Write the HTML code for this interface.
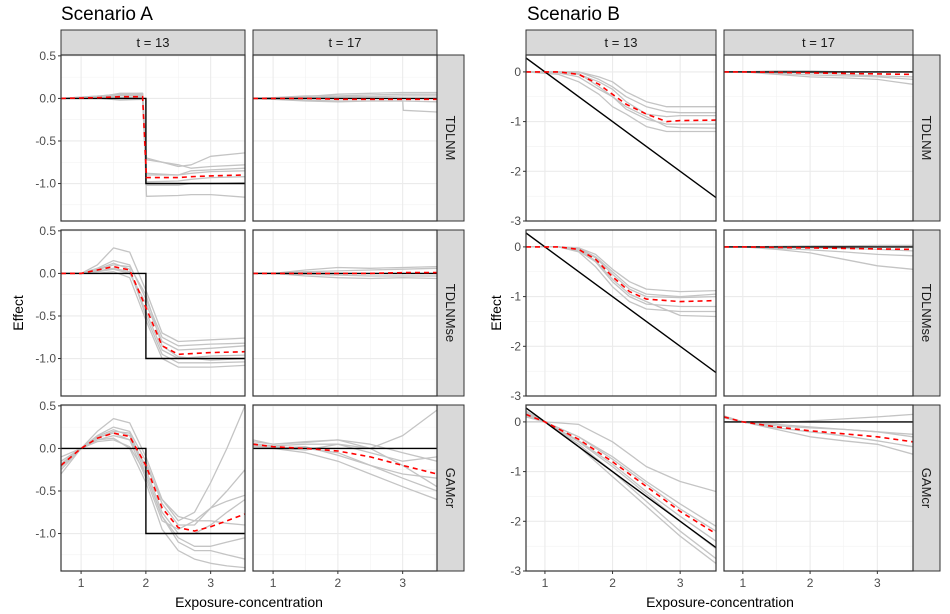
<!DOCTYPE html>
<html><head><meta charset="utf-8">
<style>
body{margin:0;background:#fff;width:950px;height:614px;overflow:hidden;font-family:"Liberation Sans",sans-serif}
svg{display:block}
</style></head>
<body>
<svg id="chart" width="950" height="614">
<text x="61" y="20" font-size="19" fill="#000">Scenario A</text>
<text x="527" y="20" font-size="19" fill="#000">Scenario B</text>
<text x="249" y="607" font-size="14" text-anchor="middle">Exposure-concentration</text>
<text x="720" y="607" font-size="14" text-anchor="middle">Exposure-concentration</text>
<text transform="translate(23,313) rotate(-90)" font-size="14" text-anchor="middle">Effect</text>
<text transform="translate(501,313) rotate(-90)" font-size="14" text-anchor="middle">Effect</text>
</svg>
<script>
// ---- data ----
const colLabels = ["t = 13", "t = 17"];
const rowLabels = ["TDLNM", "TDLNMse", "GAMcr"];
const xTicks = [1, 2, 3];
const yTicksA = [0.5, 0, -0.5, -1.0];
const yTickLabelsA = ["0.5", "0.0", "-0.5", "-1.0"];
const yTicksB = [0, -1, -2, -3];
const yTickLabelsB = ["0", "-1", "-2", "-3"];

// Scenario A truth
const truthStepX = [0.69, 2, 2, 3.53];
const truthStepY = [0, 0, -1, -1];
const truthFlatX = [0.69, 3.53];
const truthFlatY = [0, 0];
// Scenario B truth
const truthLinX = [0.72, 3.53];
const truthLinY = [0.28, -2.53];

// Scenario A panels
const a11X = [0.69, 1.3, 1.6, 1.95, 2.01, 2.5, 2.7, 3.0, 3.53];
const a11Mean = [0, 0.01, 0.02, 0.02, -0.93, -0.93, -0.92, -0.91, -0.9];
const a11Gray = [
 [0, 0.03, 0.05, 0.05, -0.7, -0.8, -0.78, -0.68, -0.64],
 [0, 0.02, 0.06, 0.06, -0.72, -0.78, -0.82, -0.8, -0.78],
 [0, 0.01, 0.03, 0.04, -1.15, -1.14, -1.13, -1.13, -1.16],
 [0, 0.0, -0.02, -0.01, -0.88, -0.9, -0.88, -0.86, -0.85],
 [0, 0.02, 0.04, 0.03, -0.98, -0.97, -0.95, -0.93, -0.92],
 [0, 0.0, 0.01, 0.02, -1.02, -1.02, -1.0, -1.0, -0.99],
 [0, 0.03, 0.05, 0.06, -0.9, -0.9, -0.85, -0.84, -0.82]
];
const a12X = [0.69, 1.0, 1.5, 2.0, 2.5, 3.0, 3.01, 3.53];
const a12Mean = [0, 0, 0, -0.01, -0.01, -0.01, -0.01, -0.01];
const a12Gray = [
 [0, 0, 0.02, 0.05, 0.06, 0.07, 0.07, 0.07],
 [0, 0, -0.02, -0.03, -0.03, -0.03, -0.14, -0.16],
 [0, 0.01, 0.03, 0.03, 0.04, 0.05, 0.05, 0.05],
 [0, -0.01, -0.03, -0.04, -0.03, -0.03, -0.03, -0.04],
 [0, 0, 0.01, 0.02, 0.02, 0.03, 0.03, 0.03]
];
const a21X = [0.69, 1.0, 1.25, 1.5, 1.75, 2.0, 2.25, 2.5, 3.0, 3.53];
const a21Mean = [0, 0, 0.04, 0.08, 0.04, -0.4, -0.85, -0.95, -0.93, -0.92];
const a21Gray = [
 [0, 0, 0.1, 0.3, 0.25, -0.2, -0.7, -0.8, -0.78, -0.76],
 [0, 0, 0.05, 0.12, 0.05, -0.5, -0.95, -1.05, -1.05, -1.04],
 [0, 0, 0.02, 0.05, 0.0, -0.35, -0.8, -0.9, -0.88, -0.85],
 [0, 0, 0.0, 0.02, -0.05, -0.55, -1.0, -1.1, -1.1, -1.08],
 [0, 0, 0.06, 0.15, 0.1, -0.3, -0.75, -0.85, -0.83, -0.82],
 [0, 0, 0.03, 0.06, 0.02, -0.45, -0.9, -1.0, -0.97, -0.96],
 [0, 0, 0.04, 0.1, 0.08, -0.25, -0.85, -0.98, -1.02, -1.0]
];
const a22X = [0.69, 1.0, 1.5, 2.0, 2.5, 3.0, 3.53];
const a22Mean = [0, 0, 0.0, 0.0, 0.0, 0.01, 0.01];
const a22Gray = [
 [0, 0, 0.04, 0.07, 0.06, 0.07, 0.08],
 [0, 0, -0.03, -0.05, -0.06, -0.05, -0.06],
 [0, 0, 0.02, 0.03, 0.04, 0.05, 0.06],
 [0, 0, -0.01, -0.02, -0.03, -0.03, -0.03]
];
const a31X = [0.69, 1.0, 1.25, 1.5, 1.75, 2.0, 2.25, 2.5, 2.75, 3.0, 3.25, 3.53];
const a31Mean = [-0.2, 0, 0.12, 0.18, 0.14, -0.2, -0.7, -0.93, -0.97, -0.92, -0.85, -0.77];
const a31Gray = [
 [-0.25, 0, 0.2, 0.35, 0.3, -0.1, -0.6, -0.85, -0.75, -0.4, 0.0, 0.5],
 [-0.15, 0, 0.1, 0.12, 0.0, -0.4, -0.95, -1.2, -1.3, -1.35, -1.38, -1.4],
 [-0.3, 0, 0.15, 0.25, 0.2, -0.15, -0.65, -0.9, -0.9, -0.7, -0.5, -0.25],
 [-0.1, 0, 0.08, 0.1, 0.02, -0.3, -0.8, -1.05, -1.15, -1.15, -1.1, -1.05],
 [-0.2, 0, 0.12, 0.2, 0.18, -0.25, -0.75, -1.0, -1.0, -0.9, -0.75, -0.6],
 [-0.18, 0, 0.1, 0.15, 0.1, -0.2, -0.6, -0.8, -0.85, -0.85, -0.88, -0.9],
 [-0.22, 0, 0.14, 0.22, 0.15, -0.3, -0.8, -1.1, -1.2, -1.2, -1.25, -1.3],
 [-0.2, 0, 0.13, 0.18, 0.1, -0.35, -0.85, -0.95, -0.85, -0.7, -0.62, -0.55]
];
const a32X = [0.69, 1.0, 1.5, 2.0, 2.5, 3.0, 3.53];
const a32Mean = [0.05, 0.02, 0.0, -0.03, -0.1, -0.2, -0.3];
const a32Gray = [
 [0.08, 0.05, 0.07, 0.1, 0.05, -0.05, -0.15],
 [0.03, 0.0, -0.05, -0.15, -0.3, -0.45, -0.6],
 [0.05, 0.03, 0.05, 0.05, 0.0, 0.15, 0.45],
 [0.06, 0.02, 0.0, -0.05, -0.2, -0.3, -0.35],
 [0.02, 0.01, -0.02, 0.05, -0.05, -0.15, -0.1],
 [0.04, 0.0, 0.02, -0.08, -0.2, -0.35, -0.5],
 [0.1, 0.05, 0.08, 0.1, 0.0, -0.2, -0.45]
];

// Scenario B panels
const b11X = [0.72, 1.2, 1.5, 1.8, 2.0, 2.2, 2.5, 2.8, 3.0, 3.53];
const b11Mean = [0, 0, -0.05, -0.25, -0.45, -0.65, -0.85, -1.0, -0.98, -0.97];
const b11Gray = [
 [0, -0.02, -0.1, -0.35, -0.5, -0.75, -0.95, -1.05, -1.05, -1.05],
 [0, 0, 0.0, -0.1, -0.2, -0.4, -0.6, -0.7, -0.7, -0.7],
 [0, -0.05, -0.2, -0.45, -0.7, -0.85, -1.1, -1.2, -1.2, -1.2],
 [0, 0, -0.05, -0.2, -0.35, -0.6, -0.85, -0.9, -0.88, -0.88],
 [0, 0, -0.03, -0.3, -0.5, -0.7, -0.9, -1.1, -1.12, -1.13],
 [0, 0, 0.0, -0.15, -0.3, -0.5, -0.7, -0.8, -0.82, -0.82]
];
const b12X = [0.72, 1.0, 1.5, 2.0, 2.5, 3.0, 3.53];
const b12Mean = [0, 0, -0.01, -0.02, -0.03, -0.04, -0.05];
const b12Gray = [
 [0, 0, -0.05, -0.1, -0.12, -0.15, -0.25],
 [0, 0, 0.0, -0.02, -0.05, -0.08, -0.1],
 [0, 0, 0.02, 0.02, 0.0, 0.0, 0.0],
 [0, 0, -0.03, -0.06, -0.08, -0.1, -0.15]
];
const b21X = [0.72, 1.2, 1.5, 1.75, 2.0, 2.25, 2.5, 3.0, 3.53];
const b21Mean = [0, 0, -0.05, -0.25, -0.6, -0.9, -1.05, -1.1, -1.08];
const b21Gray = [
 [0, 0, -0.02, -0.15, -0.45, -0.7, -0.85, -0.9, -0.88],
 [0, 0, -0.1, -0.4, -0.8, -1.1, -1.25, -1.3, -1.3],
 [0, 0, -0.03, -0.2, -0.5, -0.8, -0.95, -1.0, -0.95],
 [0, 0, -0.08, -0.3, -0.7, -1.0, -1.15, -1.2, -1.2],
 [0, 0, -0.05, -0.28, -0.65, -0.95, -1.1, -1.38, -1.4],
 [0, 0, -0.04, -0.22, -0.55, -0.85, -1.0, -1.02, -1.0]
];
const b22X = [0.72, 1.0, 1.5, 2.0, 2.5, 3.0, 3.53];
const b22Mean = [0, 0, -0.01, -0.02, -0.03, -0.04, -0.05];
const b22Gray = [
 [0, 0, -0.05, -0.12, -0.25, -0.38, -0.45],
 [0, 0, 0.0, -0.02, -0.03, -0.05, -0.08],
 [0, 0, 0.01, 0.02, 0.02, 0.03, 0.03],
 [0, 0, -0.03, -0.06, -0.1, -0.15, -0.18]
];
const b31X = [0.72, 1.0, 1.5, 2.0, 2.5, 3.0, 3.53];
const b31Mean = [0.15, 0, -0.35, -0.8, -1.3, -1.8, -2.25];
const b31Gray = [
 [0.0, 0, -0.05, -0.4, -0.9, -1.2, -1.4],
 [0.2, 0, -0.45, -1.0, -1.6, -2.2, -2.75],
 [0.18, 0, -0.4, -0.9, -1.45, -2.0, -2.55],
 [0.12, 0, -0.3, -0.7, -1.2, -1.65, -2.1],
 [0.15, 0, -0.38, -0.85, -1.4, -1.9, -2.4],
 [0.22, 0, -0.5, -1.1, -1.7, -2.3, -2.85],
 [0.1, 0, -0.3, -0.75, -1.25, -1.75, -2.2]
];
const b32X = [0.72, 1.0, 1.5, 2.0, 2.5, 3.0, 3.53];
const b32Mean = [0.1, 0, -0.1, -0.18, -0.24, -0.3, -0.4];
const b32Gray = [
 [0.1, 0, -0.02, 0.02, 0.06, 0.1, 0.15],
 [0.12, 0, -0.15, -0.3, -0.38, -0.45, -0.65],
 [0.08, 0, -0.08, -0.12, -0.15, -0.2, -0.3],
 [0.1, 0, -0.12, -0.2, -0.28, -0.38, -0.5],
 [0.09, 0, -0.05, -0.1, -0.15, -0.2, -0.25]
];

// ---- layout ----
const NS = "http://www.w3.org/2000/svg";
const svg = document.getElementById("chart");
function mk(tag, attrs, parent) {
  const e = document.createElementNS(NS, tag);
  for (const k in attrs) e.setAttribute(k, attrs[k]);
  (parent || svg).appendChild(e);
  return e;
}
const rowTops = [55, 230, 405];
const panelH = 166;
const scen = {
  A: {cols: [[61, 245], [253, 437]], strip: 437, xr: [0.69, 3.53], yr: [-1.44, 0.51],
      yt: yTicksA, ytl: yTickLabelsA, yMinor: [0.25, -0.25, -0.75, -1.25], xMinor: [1.5, 2.5, 3.5]},
  B: {cols: [[526, 716], [724, 913]], strip: 913, xr: [0.72, 3.53], yr: [-3.0, 0.34],
      yt: yTicksB, ytl: yTickLabelsB, yMinor: [-0.5, -1.5, -2.5], xMinor: [1.5, 2.5, 3.5]}
};
const panels = {
  A: [[[truthStepX, truthStepY, a11X, a11Mean, a11Gray], [truthFlatX, truthFlatY, a12X, a12Mean, a12Gray]],
      [[truthStepX, truthStepY, a21X, a21Mean, a21Gray], [truthFlatX, truthFlatY, a22X, a22Mean, a22Gray]],
      [[truthStepX, truthStepY, a31X, a31Mean, a31Gray], [truthFlatX, truthFlatY, a32X, a32Mean, a32Gray]]],
  B: [[[truthLinX, truthLinY, b11X, b11Mean, b11Gray], [truthFlatX, truthFlatY, b12X, b12Mean, b12Gray]],
      [[truthLinX, truthLinY, b21X, b21Mean, b21Gray], [truthFlatX, truthFlatY, b22X, b22Mean, b22Gray]],
      [[truthLinX, truthLinY, b31X, b31Mean, b31Gray], [truthFlatX, truthFlatY, b32X, b32Mean, b32Gray]]]
};

function pathD(xs, ys, sx, sy) {
  return xs.map((x, i) => (i ? "L" : "M") + sx(x).toFixed(1) + "," + sy(ys[i]).toFixed(1)).join(" ");
}

["A", "B"].forEach(key => {
  const S = scen[key];
  S.cols.forEach((c, ci) => {
    const st = mk("rect", {x: c[0], y: 30, width: c[1] - c[0], height: 25, fill: "#d9d9d9", stroke: "#333", "stroke-width": 1});
    
    
    const t = mk("text", {x: (c[0] + c[1]) / 2, y: 47, "font-size": 13, fill: "#1a1a1a", "text-anchor": "middle"});
    t.textContent = colLabels[ci];
    
    
  });
  rowTops.forEach((top, ri) => {
    const bot = top + panelH;
    const sy = v => bot - (v - S.yr[0]) / (S.yr[1] - S.yr[0]) * panelH;
    const rs = mk("rect", {x: S.strip, y: top, width: 27, height: panelH, fill: "#d9d9d9", stroke: "#333", "stroke-width": 1});
    
    
    const rt = mk("text", {transform: `translate(${S.strip + 9},${top + panelH / 2}) rotate(90)`, "font-size": 13, fill: "#1a1a1a", "text-anchor": "middle"});
    rt.textContent = rowLabels[ri];
    
    
    S.yt.forEach((v, i) => {
      const y = sy(v);
      mk("line", {x1: S.cols[0][0] - 3, x2: S.cols[0][0], y1: y, y2: y, stroke: "#333"});
      const tl = mk("text", {x: S.cols[0][0] - 5, y: y + 4, "font-size": 12, fill: "#4d4d4d", "text-anchor": "end"});
      tl.textContent = S.ytl[i];
      
      
    });
    S.cols.forEach((c, ci) => {
      const sx = v => c[0] + (v - S.xr[0]) / (S.xr[1] - S.xr[0]) * (c[1] - c[0]);
      const g = mk("g", {});
      
      
      const cid = "clip" + key + ri + ci;
      const cp = mk("clipPath", {id: cid}, g);
      mk("rect", {x: c[0], y: top, width: c[1] - c[0], height: panelH}, cp);
      g.setAttribute("clip-path", "url(#" + cid + ")");
      mk("rect", {x: c[0], y: top, width: c[1] - c[0], height: panelH, fill: "#fff"}, g);
      S.yMinor.forEach(v => mk("line", {x1: c[0], x2: c[1], y1: sy(v), y2: sy(v), stroke: "#f2f2f2", "stroke-width": 0.6}, g));
      S.xMinor.forEach(v => mk("line", {x1: sx(v), x2: sx(v), y1: top, y2: bot, stroke: "#f2f2f2", "stroke-width": 0.6}, g));
      S.yt.forEach(v => mk("line", {x1: c[0], x2: c[1], y1: sy(v), y2: sy(v), stroke: "#ebebeb", "stroke-width": 1.1}, g));
      xTicks.forEach(v => mk("line", {x1: sx(v), x2: sx(v), y1: top, y2: bot, stroke: "#ebebeb", "stroke-width": 1.1}, g));
      const P = panels[key][ri][ci];
      P[4].forEach(gy => {
        const gl = mk("path", {d: pathD(P[2], gy, sx, sy), fill: "none", stroke: "#c4c4c4", "stroke-width": 1.3, "stroke-linejoin": "round"}, g);
        
        
      });
      const tr = mk("path", {d: pathD(P[0], P[1], sx, sy), fill: "none", stroke: "#000", "stroke-width": 1.4}, g);
      
      
      const mn = mk("path", {d: pathD(P[2], P[3], sx, sy), fill: "none", stroke: "#ff0000", "stroke-width": 1.6, "stroke-dasharray": "5,4"}, g);
      
      
      mk("rect", {x: c[0], y: top, width: c[1] - c[0], height: panelH, fill: "none", stroke: "#333", "stroke-width": 1.2});
      if (ri === 2) {
        xTicks.forEach(v => {
          mk("line", {x1: sx(v), x2: sx(v), y1: bot, y2: bot + 3, stroke: "#333"});
          const xl = mk("text", {x: sx(v), y: bot + 16, "font-size": 12, fill: "#4d4d4d", "text-anchor": "middle"});
          xl.textContent = String(v);
          
          
        });
      }
    });
  });
});
</script>
</body></html>
